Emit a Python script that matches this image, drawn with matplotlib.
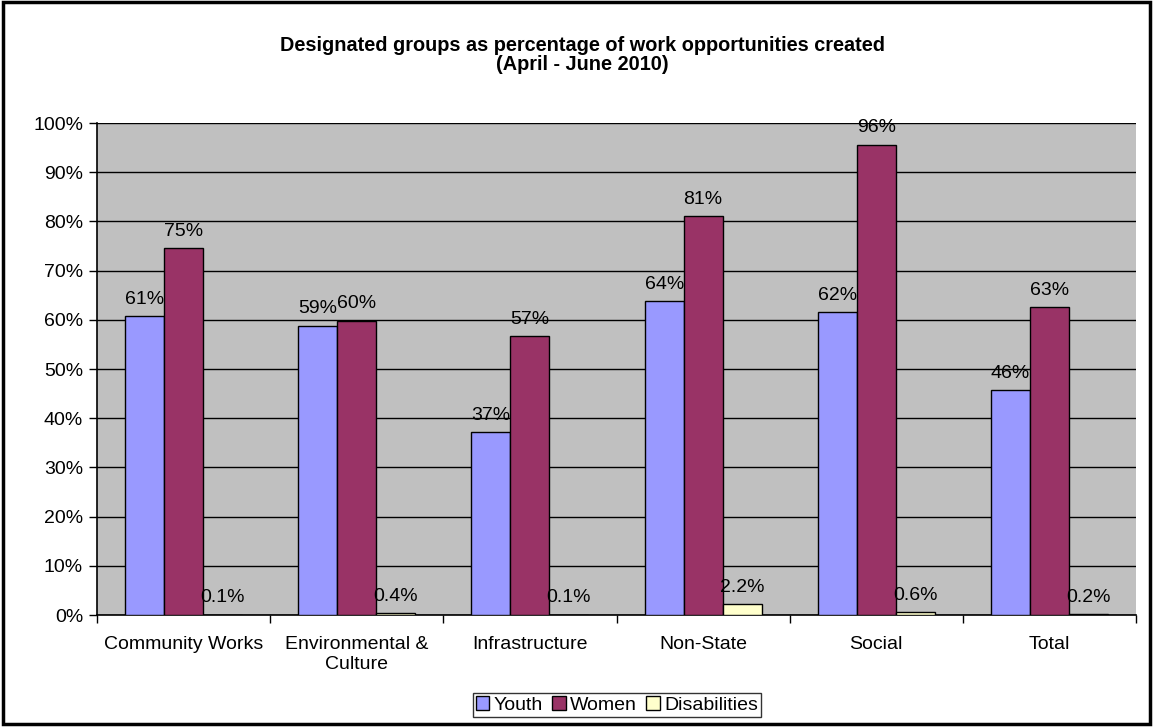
import numpy as np
import matplotlib
matplotlib.use("Agg")
import matplotlib.pyplot as plt
from matplotlib.patches import Rectangle

plt.rcParams["font.family"] = ["Liberation Sans", "DejaVu Sans"]

categories = ["Community Works", "Environmental &\nCulture", "Infrastructure",
              "Non-State", "Social", "Total"]
youth = [0.607, 0.588, 0.371, 0.638, 0.615, 0.457]
women = [0.745, 0.598, 0.567, 0.810, 0.956, 0.626]
disabilities = [0.001, 0.004, 0.001, 0.022, 0.006, 0.002]
youth_labels = ["61%", "59%", "37%", "64%", "62%", "46%"]
women_labels = ["75%", "60%", "57%", "81%", "96%", "63%"]
dis_labels = ["0.1%", "0.4%", "0.1%", "2.2%", "0.6%", "0.2%"]

fs = 14

fig = plt.figure(figsize=(11.53, 7.27), dpi=100)
ax = fig.add_axes([0.0841, 0.154, 0.9012, 0.6768])
ax.set_facecolor("#C0C0C0")

x = np.arange(len(categories))
w = 0.225
series = [
    (youth, youth_labels, "#9999FF", "Youth"),
    (women, women_labels, "#993366", "Women"),
    (disabilities, dis_labels, "#FFFFCC", "Disabilities"),
]
for i, (vals, labs, col, name) in enumerate(series):
    pos = x + (i - 1) * w
    ax.bar(pos, vals, width=w, color=col, edgecolor="black", linewidth=1,
           label=name, zorder=3)
    for p, v, t in zip(pos, vals, labs):
        ax.text(p, v + 0.017, t, ha="center", va="bottom", fontsize=fs, zorder=4)

ax.set_xlim(-0.5, len(categories) - 0.5)
ax.set_ylim(0, 1.0)
ax.set_yticks(np.arange(0, 1.01, 0.1))
ax.set_yticklabels([f"{int(round(t * 100))}%" for t in np.arange(0, 1.01, 0.1)],
                   fontsize=fs)
ax.yaxis.grid(True, color="black", linewidth=1, zorder=1)
ax.set_axisbelow(True)

ax.set_xticks(x)
ax.set_xticklabels(categories, fontsize=fs, linespacing=1.25)
ax.tick_params(axis="x", length=0, pad=15)
ax.set_xticks(np.arange(-0.5, len(categories)), minor=True)
ax.tick_params(axis="x", which="minor", length=6, width=1, direction="out")
ax.tick_params(axis="y", length=6, width=1, direction="out", pad=4)

for s in ["top", "right"]:
    ax.spines[s].set_visible(False)
ax.spines["left"].set_color("black")
ax.spines["bottom"].set_color("black")
ax.spines["left"].set_linewidth(1.2)
ax.spines["bottom"].set_linewidth(1.2)

fig.text(0.505, 0.925, "Designated groups as percentage of work opportunities created\n(April - June 2010)",
         ha="center", va="center", fontsize=14.3, fontweight="bold", linespacing=1.0)

leg = ax.legend(loc="center", bbox_to_anchor=(0.535, 0.030),
                bbox_transform=fig.transFigure, ncol=3, fontsize=fs,
                frameon=True, fancybox=False, edgecolor="black",
                handlelength=0.7, handleheight=0.7, handletextpad=0.2,
                columnspacing=0.5, borderpad=0.15, borderaxespad=0)
leg.get_frame().set_linewidth(1)

fig.patches.append(Rectangle((0.003, 0.004), 0.994, 0.993, transform=fig.transFigure,
                             fill=False, edgecolor="black", linewidth=2.5))

fig.savefig("out.png", dpi=100)
